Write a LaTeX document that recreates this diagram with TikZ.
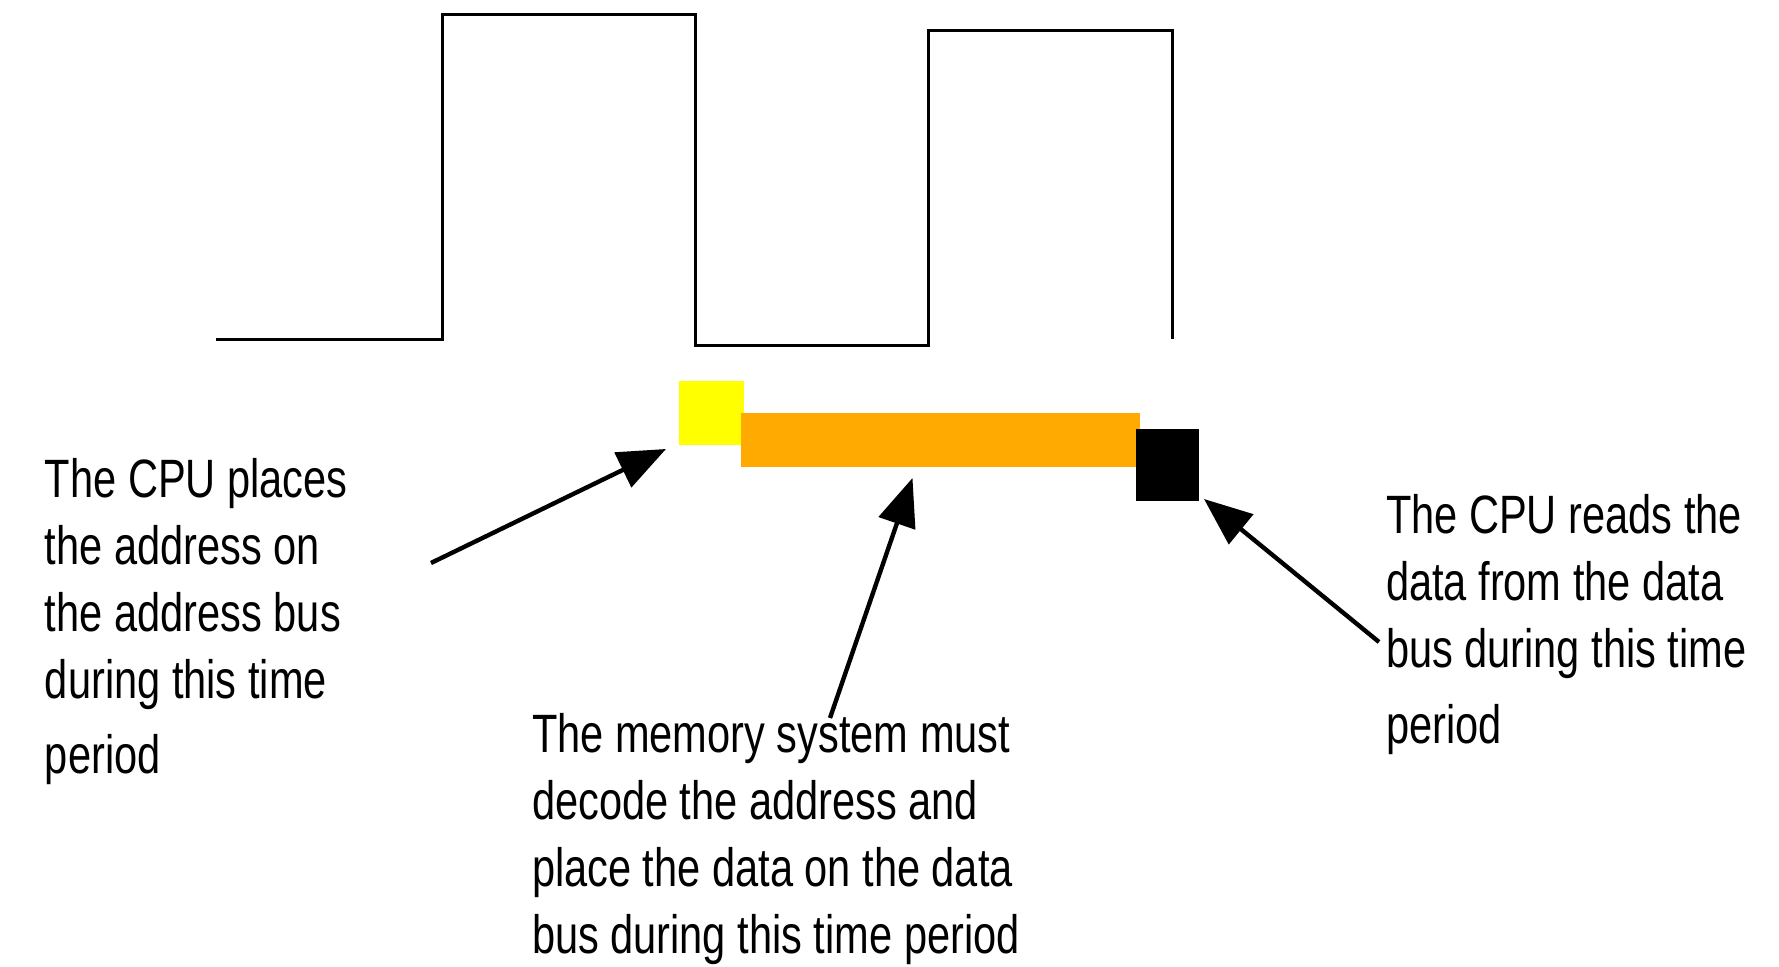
\documentclass[tikz,border=0pt]{standalone}
\usepackage{fontspec}
\setmainfont[FakeStretch=0.77]{Liberation Sans}
\usetikzlibrary{arrows.meta}
\definecolor{addryellow}{RGB}{255,255,0}
\definecolor{busorange}{RGB}{255,170,0}
\begin{document}
\begin{tikzpicture}[x=0.5pt,y=-0.5pt,
  wave/.style={line width=1.5pt, line join=miter},
  pointer/.style={line width=2.2pt, -{Triangle[length=24pt,width=19pt]}},
  phase/.style={draw=none, inner sep=0pt, outer sep=0pt},
  note/.style={anchor=north west, inner sep=0pt, outer sep=0pt, align=left,
    font=\fontsize{27}{33.5}\selectfont}]
\useasboundingbox (0,0) rectangle (1779,967);

% clock waveform
\draw[wave] (216,340) -- (442,340) -- (442,14.5) -- (695,14.5) -- (695,346)
  -- (928,346) -- (928,31) -- (1172,31) -- (1172,339);

% bus phases
\node[phase, fill=addryellow, minimum width=32.5pt, minimum height=32pt] (addr) at (711.5,413) {};
\node[phase, fill=busorange, minimum width=199.5pt, minimum height=27pt] (decode) at (940.5,440) {};
\node[phase, fill=black, minimum width=31.5pt, minimum height=36pt] (read) at (1167.5,465) {};

% explanations
\node[note] (addrtxt) at (45,458) {The CPU places\\the address on\\the address bus\\during this time\\[4pt]period};
\node[note] (memtxt) at (532,713) {The memory system must\\decode the address and\\place the data on the data\\bus during this time period};
\node[note] (readtxt) at (1386,494) {The CPU reads the\\data from the data\\bus during this time\\[4.5pt]period};

% pointers
\coordinate (p1) at (431,563);
\coordinate (p2) at (830,718);
\coordinate (p3) at (1379,642);
\draw[pointer] (p1) -- ([shift={(-13,4)}]addr.south west);
\draw[pointer] (p2) -- ([shift={(-28,11)}]decode.south);
\draw[pointer] (p3) -- ([shift={(5,-2)}]read.south east);
\end{tikzpicture}
\end{document}
